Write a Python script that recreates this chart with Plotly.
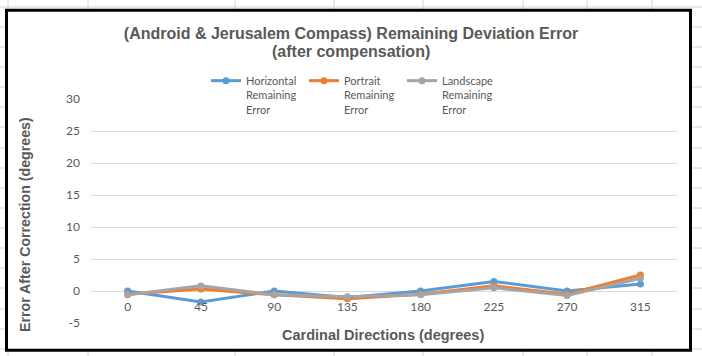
import plotly.graph_objects as go

# ---- data ----
directions = ["0", "45", "90", "135", "180", "225", "270", "315"]
horizontal = [0.0, -1.7, 0.0, -1.0, 0.0, 1.5, 0.0, 1.1]
portrait = [-0.5, 0.3, -0.6, -1.2, -0.5, 0.8, -0.5, 2.5]
landscape = [-0.6, 0.8, -0.6, -0.9, -0.6, 0.5, -0.7, 2.0]
y_ticks = [-5, 0, 5, 10, 15, 20, 25, 30]
y_tick_labels = ["-5", "0", "5", "10", "15", "20", "25", "30"]

title_line1 = "(Android & Jerusalem Compass) Remaining Deviation Error"
title_line2 = "(after compensation)"
series_names = ["Horizontal<br>Remaining<br>Error",
                "Portrait<br>Remaining<br>Error",
                "Landscape<br>Remaining<br>Error"]
colors = ["#5B9BD5", "#ED7D31", "#A5A5A5"]

W, H = 702, 356
L, R, T, B = 91, 25, 99, 33
PW, PH = W - L - R, H - T - B


def px(x):
    return (x - L) / PW


def py(y):
    return (H - B - y) / PH


fig = go.Figure()
for name, vals, c in zip(series_names, [horizontal, portrait, landscape], colors):
    fig.add_trace(go.Scatter(
        x=directions, y=vals, name=name, mode="lines+markers",
        line=dict(color=c, width=3), marker=dict(color=c, size=7),
    ))

shapes = []
grid_c = "#d4d4d4"
for yy in [7, 27, 47, 67, 87, 107, 127, 148, 168, 188, 208, 228, 248, 268, 288, 309, 329, 349]:
    shapes.append(dict(type="line", xref="paper", yref="paper", x0=px(0), x1=px(W),
                       y0=py(yy), y1=py(yy), line=dict(color=grid_c, width=1), layer="below"))
for xx in [8, 88, 235, 334, 423, 523, 587, 652]:
    shapes.append(dict(type="line", xref="paper", yref="paper", x0=px(xx), x1=px(xx),
                       y0=py(0), y1=py(H), line=dict(color=grid_c, width=1), layer="below"))
shapes.append(dict(type="rect", xref="paper", yref="paper", x0=px(6.5), x1=px(690.5),
                   y0=py(10.3), y1=py(350.2), fillcolor="white",
                   line=dict(color="black", width=3), layer="below"))

text_c = "#595959"
bold_font = "Liberation Sans, Arial"
annotations = [
    dict(text="<b>" + title_line2 + "</b>", xref="paper", yref="paper",
         x=px(351), y=py(51.5), showarrow=False, xanchor="center", yanchor="middle",
         font=dict(family=bold_font, size=16, color=text_c)),
    dict(text="<b>Cardinal Directions (degrees)</b>", xref="paper", yref="paper",
         x=px(383), y=py(335), showarrow=False, xanchor="center", yanchor="middle",
         font=dict(family=bold_font, size=14.5, color=text_c)),
    dict(text="<b>Error After Correction (degrees)</b>", xref="paper", yref="paper",
         x=px(25), y=py(225), showarrow=False, textangle=-90, xanchor="center", yanchor="middle",
         font=dict(family=bold_font, size=14.2, color=text_c)),
]

fig.update_layout(
    width=W, height=H,
    margin=dict(l=L, r=R, t=T, b=B, pad=0),
    paper_bgcolor="white", plot_bgcolor="rgba(0,0,0,0)",
    title=dict(text="<b>" + title_line1 + "</b>",
               x=0.5, xref="container", xanchor="center",
               y=1 - 33 / H, yref="container", yanchor="middle",
               font=dict(family=bold_font, size=16, color=text_c)),
    showlegend=True,
    legend=dict(orientation="h", x=px(206), y=py(67), xanchor="left", yanchor="top",
                valign="top", bgcolor="rgba(0,0,0,0)", tracegroupgap=0,
                entrywidth=53, entrywidthmode="pixels",
                font=dict(family="Lato", size=11, color=text_c)),
    xaxis=dict(type="category", categoryorder="array", categoryarray=directions,
               range=[-0.5, 7.5], showgrid=False, zeroline=False, showline=False,
               anchor="free", position=5 / 35, ticks="", ticklabelstandoff=7,
               tickfont=dict(family="Lato", size=12, color=text_c)),
    yaxis=dict(range=[-5, 30], tickvals=y_ticks, ticktext=y_tick_labels,
               showgrid=True, gridcolor="#d9d9d9",
               gridwidth=1, zeroline=False, showline=False, ticks="", ticklabelstandoff=10,
               tickfont=dict(family="Lato", size=12, color=text_c)),
    shapes=shapes, annotations=annotations,
)

fig.write_html("out.html", config={"displayModeBar": False})
with open("out.html", encoding="utf-8") as f:
    html = f.read()
html = html.replace("<head>", "<head><style>html,body{margin:0;padding:0;overflow:hidden;}</style>", 1)
with open("out.html", "w", encoding="utf-8") as f:
    f.write(html)
